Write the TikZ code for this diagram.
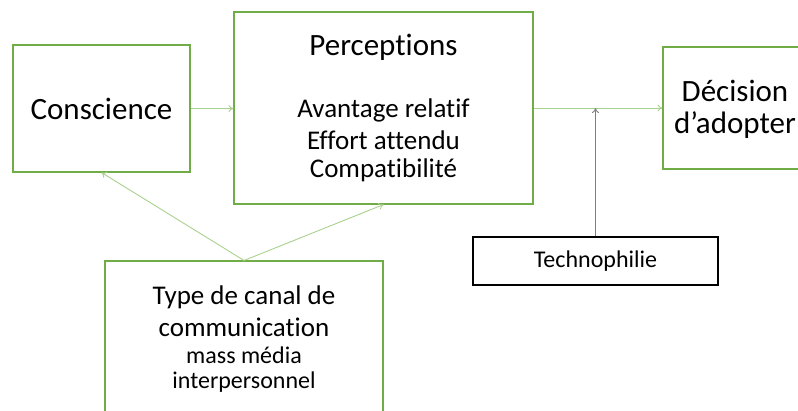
\documentclass[tikz,border=0pt]{standalone}
\usepackage{fontspec}
\setmainfont{Carlito}[Ligatures={NoCommon}]
\usetikzlibrary{arrows.meta}
\definecolor{boxgreen}{RGB}{112,173,71}
\definecolor{linegreen}{RGB}{169,209,142}
\definecolor{linegray}{RGB}{127,127,127}
\tikzset{
  gbox/.style={draw=boxgreen, line width=1.1pt, inner sep=0pt, fill=white},
  kbox/.style={draw=black, line width=1.1pt, inner sep=0pt},
  txt/.style={inner sep=0pt, text=black},
  conn/.style={draw=linegreen, line width=0.9pt, -{To[length=5pt,width=7pt]}},
  gconn/.style={draw=linegray, line width=0.9pt, -{To[length=5pt,width=7pt]}},
  big/.style={font=\fontsize{31}{34}\selectfont},
  mid/.style={font=\fontsize{27}{30}\selectfont},
  small/.style={font=\fontsize{24}{27}\selectfont},
}
\begin{document}
\begin{tikzpicture}[x=1pt,y=-1pt]
\useasboundingbox (0,0) rectangle (798,410);
\clip (0,0) rectangle (798,410);
% boxes
\node[gbox, minimum width=177pt, minimum height=127pt] (consc) at (101.5,108.5) {};
\node[txt, big] (conscT) at (101.5,108.5) {Conscience};
\node[gbox, minimum width=299pt, minimum height=192pt] (perc) at (383.5,108) {};
\node[txt, big] (percT) at (383.5,47) {Perceptions};
\node[txt, mid] (p1) at (383.5,110) {Avantage relatif};
\node[txt, mid] (p2) at (383.5,140) {Effort attendu};
\node[txt, mid] (p3) at (383.5,170) {Compatibilité};
\node[gbox, minimum width=145pt, minimum height=122pt] (dec) at (735.5,108) {};
\node[txt, big] (dec1) at (735,91) {Décision};
\node[txt, big] (dec2) at (735,125) {d’adopter};
\node[kbox, minimum width=245pt, minimum height=48pt] (tech) at (595.5,261) {};
\node[txt, small] (techT) at (595.5,261) {Technophilie};
\node[gbox, minimum width=278pt, minimum height=180pt] (type) at (244,351) {};
\node[txt, mid] (t1) at (244,297) {Type de canal de};
\node[txt, mid] (t2) at (244,327) {communication};
\node[txt, small] (t3) at (244,355) {mass média};
\node[txt, small] (t4) at (244,382) {interpersonnel};
% connectors
\draw[conn] (consc.east) -- (consc.east -| perc.west);
\draw[conn] (perc.east) -- (perc.east -| dec.west);
\draw[gconn] (tech.north) -- (tech.north |- perc.east);
\draw[conn] (type.north) -- (consc.south);
\draw[conn] (type.north) -- (perc.south);
\end{tikzpicture}
\end{document}
